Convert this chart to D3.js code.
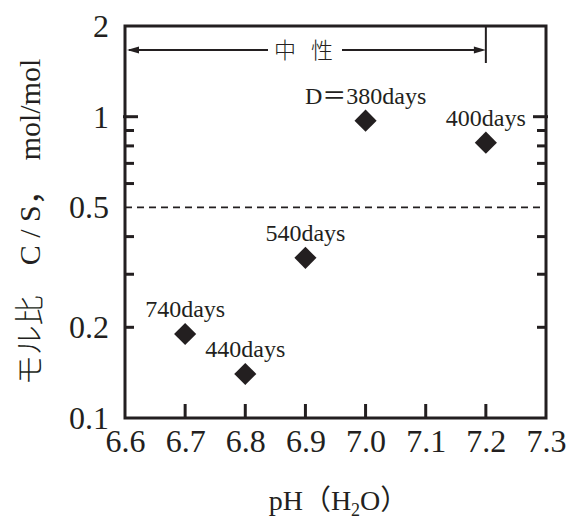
<!DOCTYPE html>
<html>
<head>
<meta charset="utf-8">
<script src="https://cdn.jsdelivr.net/npm/d3@7"></script>
<style>
  body { margin: 0; background: #fff; }
  svg { display: block; }
  text { font-family: "Liberation Serif", "Times New Roman", "Noto Sans CJK JP", serif; fill: #231f20; }
</style>
</head>
<body>
<svg></svg>
<script>
// data
const ph = [6.7, 6.8, 6.9, 7.0, 7.2];
const cs = [0.19, 0.14, 0.34, 0.97, 0.82];
const labels = ["740days", "440days", "540days", "D＝380days", "400days"];

const xTicks = [6.7, 6.8, 6.9, 7.0, 7.1, 7.2];
const xLabelTicks = [6.6, 6.7, 6.8, 6.9, 7.0, 7.1, 7.2, 7.3];
const yLabelTicks = [0.1, 0.2, 0.5, 1, 2];
const yMinorTicks = [0.2, 0.3, 0.4, 0.6, 0.7, 0.8, 0.9];
const neutralLimit = 7.2;
const dashValue = 0.5;

const svg_width = 568;
const svg_height = 519;
const ink = "#231f20";
const serif = "'Liberation Serif', 'Times New Roman', 'Noto Sans CJK JP', serif";

const svg = d3.select("svg")
    .attr("width", svg_width)
    .attr("height", svg_height);

const plot_left = 125, plot_right = 546, plot_top = 26, plot_bottom = 418;

const x = d3.scaleLinear().domain([6.6, 7.3]).range([plot_left, plot_right]);
const y = d3.scaleLog().domain([0.1, 2]).range([plot_bottom, plot_top]);

// dashed line at C/S = 0.5
svg.append("line")
    .attr("x1", plot_left).attr("x2", plot_right)
    .attr("y1", y(dashValue)).attr("y2", y(dashValue))
    .attr("stroke", ink)
    .attr("stroke-width", 1.6)
    .attr("stroke-dasharray", "7,5");

// minor ticks, left and right, pointing inwards
yMinorTicks.forEach(v => {
    svg.append("line")
        .attr("x1", plot_left).attr("x2", plot_left + 9)
        .attr("y1", y(v)).attr("y2", y(v))
        .attr("stroke", ink).attr("stroke-width", 3);
    svg.append("line")
        .attr("x1", plot_right - 9).attr("x2", plot_right)
        .attr("y1", y(v)).attr("y2", y(v))
        .attr("stroke", ink).attr("stroke-width", 3);
});
// longer tick at 1
[[plot_left - 2, plot_left + 13], [plot_right - 13, plot_right + 2]].forEach(([a, b]) => {
    svg.append("line")
        .attr("x1", a).attr("x2", b)
        .attr("y1", y(1)).attr("y2", y(1))
        .attr("stroke", ink).attr("stroke-width", 3);
});

// x ticks pointing up
xTicks.forEach(v => {
    svg.append("line")
        .attr("x1", x(v)).attr("x2", x(v))
        .attr("y1", plot_bottom).attr("y2", plot_bottom - 14)
        .attr("stroke", ink).attr("stroke-width", 3);
});

// x axis labels
const xAxis = d3.axisBottom(x)
    .tickValues(xLabelTicks)
    .tickSize(0)
    .tickPadding(11)
    .tickFormat(d3.format(".1f"));

const gx = svg.append("g")
    .attr("transform", `translate(0, ${plot_bottom})`)
    .call(xAxis);
gx.select(".domain").remove();
gx.selectAll("line").remove();
gx.selectAll("text")
    .attr("font-size", 32)
    .style("font-family", serif)
    .attr("fill", ink);

// y axis labels only
const yAxis = d3.axisLeft(y)
    .tickValues(yLabelTicks)
    .tickSize(0)
    .tickPadding(16)
    .tickFormat(d => d);

const gy = svg.append("g")
    .attr("transform", `translate(${plot_left}, 0)`)
    .call(yAxis);
gy.select(".domain").remove();
gy.selectAll("line").remove();
gy.selectAll("text")
    .attr("font-size", 32)
    .style("font-family", serif)
    .attr("fill", ink)
    .attr("dy", "0.33em");

// frame
svg.append("rect")
    .attr("x", plot_left).attr("y", plot_top)
    .attr("width", plot_right - plot_left).attr("height", plot_bottom - plot_top)
    .attr("fill", "none")
    .attr("stroke", ink)
    .attr("stroke-width", 3);

// neutral range marker
const arrowY = 50;
const xl = x(neutralLimit);
svg.append("line")
    .attr("x1", xl).attr("x2", xl)
    .attr("y1", plot_top).attr("y2", 63)
    .attr("stroke", ink).attr("stroke-width", 2);
svg.append("line")
    .attr("x1", plot_left + 4).attr("x2", 268)
    .attr("y1", arrowY).attr("y2", arrowY)
    .attr("stroke", ink).attr("stroke-width", 2);
svg.append("line")
    .attr("x1", 342).attr("x2", xl - 4)
    .attr("y1", arrowY).attr("y2", arrowY)
    .attr("stroke", ink).attr("stroke-width", 2);
svg.append("path")
    .attr("d", `M${plot_left + 2},${arrowY} l12,-3.5 l0,7 z`)
    .attr("fill", ink);
svg.append("path")
    .attr("d", `M${xl},${arrowY} l-12,-3.5 l0,7 z`)
    .attr("fill", ink);
svg.append("text")
    .attr("x", 306).attr("y", arrowY + 8)
    .attr("text-anchor", "middle")
    .attr("font-size", 22)
    .attr("letter-spacing", 5)
    .style("font-family", "'Noto Sans CJK JP', sans-serif")
    .style("font-weight", 300)
    .text("中 性");

// points
const points = ph.map((p, i) => ({ p: p, c: cs[i], label: labels[i] }));

svg.append("g").selectAll("path")
    .data(points)
    .join("path")
    .attr("d", d3.symbol().type(d3.symbolSquare).size(245))
    .attr("transform", d => `translate(${x(d.p)}, ${y(d.c)}) rotate(45)`)
    .attr("fill", ink);

svg.append("g").selectAll("text")
    .data(points)
    .join("text")
    .attr("x", d => x(d.p))
    .attr("y", d => y(d.c) - 17)
    .attr("text-anchor", "middle")
    .attr("font-size", 24)
    .style("font-family", serif)
    .text(d => d.label);

// axis titles
const xt = svg.append("text")
    .attr("x", (plot_left + plot_right) / 2 + 3)
    .attr("y", 510)
    .attr("text-anchor", "middle")
    .attr("font-size", 28)
    .style("font-family", serif);
xt.append("tspan").text("pH（H");
xt.append("tspan").attr("font-size", 18).attr("dy", 6).text("2");
xt.append("tspan").attr("dy", -6).text("O）");

const yt = svg.append("text")
    .attr("transform", `translate(40, ${(plot_top + plot_bottom) / 2}) rotate(-90)`)
    .attr("text-anchor", "middle")
    .attr("font-size", 30)
    .style("font-family", serif);
yt.append("tspan")
    .style("font-family", "'Noto Sans CJK JP', sans-serif")
    .style("font-weight", 300)
    .text("モル比　");
yt.append("tspan").text("C / S");
yt.append("tspan")
    .style("font-family", "'Noto Sans CJK JP', sans-serif")
    .text("，　");
yt.append("tspan").text("mol/mol");
</script>
</body>
</html>
